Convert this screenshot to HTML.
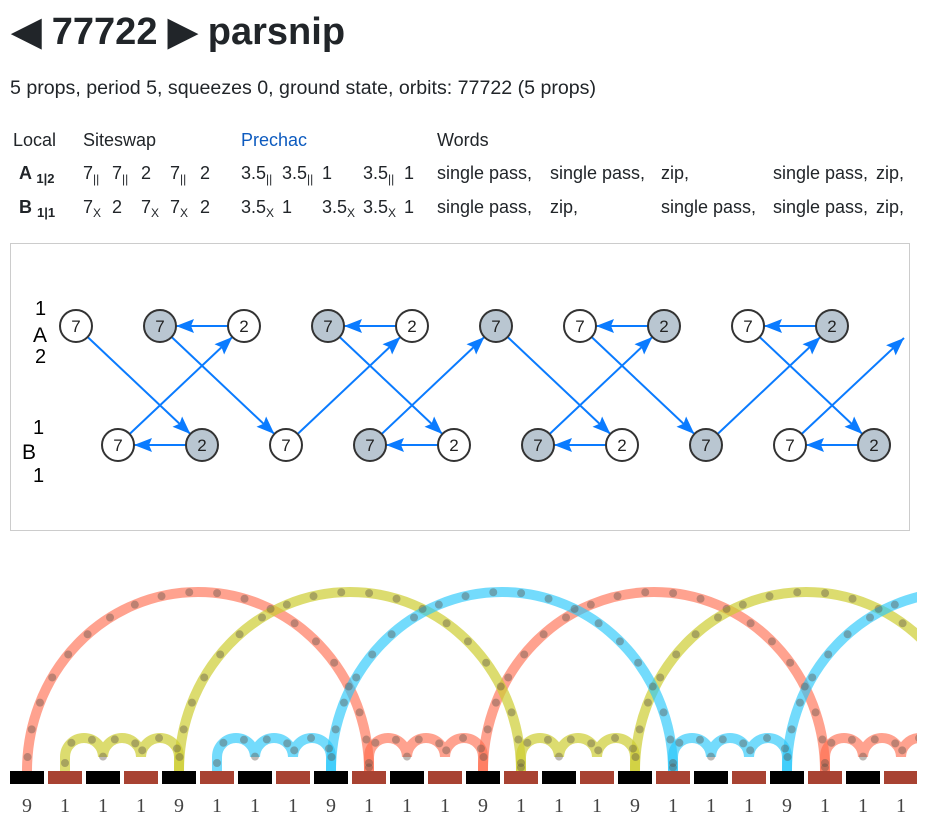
<!DOCTYPE html>
<html><head><meta charset="utf-8"><style>
body{margin:0;width:927px;height:836px;background:#fff;font-family:"Liberation Sans",sans-serif;color:#212529;position:relative;overflow:hidden}
.t{position:absolute;white-space:nowrap;font-size:18px;line-height:22px}
sub{font-size:12px;vertical-align:-4px}
b sub{font-size:13px}
</style></head><body>
<div class="t" style="left:12px;top:11px;font-size:38px;line-height:42px;font-weight:bold">◀ 77722 ▶ parsnip</div>
<div class="t" style="left:10px;top:77px;font-size:19.6px">5 props, period 5, squeezes 0, ground state, orbits: 77722 (5 props)</div>
<div class="t" style="left:13px;top:129px">Local</div>
<div class="t" style="left:83px;top:129px">Siteswap</div>
<div class="t" style="left:241px;top:129px;color:#0d5bbf">Prechac</div>
<div class="t" style="left:437px;top:129px">Words</div>

<div class="t" style="left:19px;top:162px"><b>A <sub>1|2</sub></b></div>
<div class="t" style="left:83px;top:162px">7<sub>||</sub></div>
<div class="t" style="left:112px;top:162px">7<sub>||</sub></div>
<div class="t" style="left:141px;top:162px">2</div>
<div class="t" style="left:170px;top:162px">7<sub>||</sub></div>
<div class="t" style="left:200px;top:162px">2</div>
<div class="t" style="left:241px;top:162px">3.5<sub>||</sub></div>
<div class="t" style="left:282px;top:162px">3.5<sub>||</sub></div>
<div class="t" style="left:322px;top:162px">1</div>
<div class="t" style="left:363px;top:162px">3.5<sub>||</sub></div>
<div class="t" style="left:404px;top:162px">1</div>
<div class="t" style="left:437px;top:162px">single pass,</div>
<div class="t" style="left:550px;top:162px">single pass,</div>
<div class="t" style="left:661px;top:162px">zip,</div>
<div class="t" style="left:773px;top:162px">single pass,</div>
<div class="t" style="left:876px;top:162px">zip,</div>

<div class="t" style="left:19px;top:196px"><b>B <sub>1|1</sub></b></div>
<div class="t" style="left:83px;top:196px">7<sub>X</sub></div>
<div class="t" style="left:112px;top:196px">2</div>
<div class="t" style="left:141px;top:196px">7<sub>X</sub></div>
<div class="t" style="left:170px;top:196px">7<sub>X</sub></div>
<div class="t" style="left:200px;top:196px">2</div>
<div class="t" style="left:241px;top:196px">3.5<sub>X</sub></div>
<div class="t" style="left:282px;top:196px">1</div>
<div class="t" style="left:322px;top:196px">3.5<sub>X</sub></div>
<div class="t" style="left:363px;top:196px">3.5<sub>X</sub></div>
<div class="t" style="left:404px;top:196px">1</div>
<div class="t" style="left:437px;top:196px">single pass,</div>
<div class="t" style="left:550px;top:196px">zip,</div>
<div class="t" style="left:661px;top:196px">single pass,</div>
<div class="t" style="left:773px;top:196px">single pass,</div>
<div class="t" style="left:876px;top:196px">zip,</div>

<svg width="927" height="836" style="position:absolute;left:0;top:0" font-family="Liberation Sans, sans-serif">
<defs>
<marker id="a2" viewBox="0 0 18 14" markerWidth="18" markerHeight="14" refX="18" refY="7" orient="auto" markerUnits="userSpaceOnUse"><path d="M0,0 L18,7 L0,14 L3,7 Z" fill="#0a7bff"/></marker>
<clipPath id="cp"><rect x="0" y="540" width="917" height="260"/></clipPath>
</defs>
<rect x="10.5" y="243.5" width="899" height="287" fill="none" stroke="#ccc"/>
<g font-size="21" fill="#000">
<text x="33" y="342">A</text><text x="35" y="315" font-size="20">1</text><text x="35" y="363" font-size="20">2</text>
<text x="22" y="459">B</text><text x="33" y="434" font-size="20">1</text><text x="33" y="482" font-size="20">1</text>
</g>
<g stroke="#0a7bff" stroke-width="2" marker-end="url(#a2)" fill="none">
<path d="M87.6,337 L190.4,434"/><path d="M171.6,337 L274.4,434"/><path d="M339.6,337 L442.4,434"/><path d="M507.6,337 L610.4,434"/><path d="M591.6,337 L694.4,434"/><path d="M759.6,337 L862.4,434"/>
<path d="M129.6,434 L232.4,337"/><path d="M297.6,434 L400.4,337"/><path d="M381.6,434 L484.4,337"/><path d="M549.6,434 L652.4,337"/><path d="M717.6,434 L820.4,337"/><path d="M801.6,434 L904,338"/>
<path d="M228,326 L176,326"/><path d="M396,326 L344,326"/><path d="M648,326 L596,326"/><path d="M816,326 L764,326"/>
<path d="M186,445 L134,445"/><path d="M438,445 L386,445"/><path d="M606,445 L554,445"/><path d="M858,445 L806,445"/>
</g>
<g stroke="#333" stroke-width="2" font-size="17" text-anchor="middle">
<circle cx="76" cy="326" r="16" fill="#fff"/><circle cx="160" cy="326" r="16" fill="#b9c6d1"/><circle cx="244" cy="326" r="16" fill="#fff"/><circle cx="328" cy="326" r="16" fill="#b9c6d1"/><circle cx="412" cy="326" r="16" fill="#fff"/><circle cx="496" cy="326" r="16" fill="#b9c6d1"/><circle cx="580" cy="326" r="16" fill="#fff"/><circle cx="664" cy="326" r="16" fill="#b9c6d1"/><circle cx="748" cy="326" r="16" fill="#fff"/><circle cx="832" cy="326" r="16" fill="#b9c6d1"/>
<circle cx="118" cy="445" r="16" fill="#fff"/><circle cx="202" cy="445" r="16" fill="#b9c6d1"/><circle cx="286" cy="445" r="16" fill="#fff"/><circle cx="370" cy="445" r="16" fill="#b9c6d1"/><circle cx="454" cy="445" r="16" fill="#fff"/><circle cx="538" cy="445" r="16" fill="#b9c6d1"/><circle cx="622" cy="445" r="16" fill="#fff"/><circle cx="706" cy="445" r="16" fill="#b9c6d1"/><circle cx="790" cy="445" r="16" fill="#fff"/><circle cx="874" cy="445" r="16" fill="#b9c6d1"/>
<g stroke="none" fill="#222">
<text x="76" y="332">7</text><text x="160" y="332">7</text><text x="244" y="332">2</text><text x="328" y="332">7</text><text x="412" y="332">2</text><text x="496" y="332">7</text><text x="580" y="332">7</text><text x="664" y="332">2</text><text x="748" y="332">7</text><text x="832" y="332">2</text>
<text x="118" y="451">7</text><text x="202" y="451">2</text><text x="286" y="451">7</text><text x="370" y="451">7</text><text x="454" y="451">2</text><text x="538" y="451">7</text><text x="622" y="451">2</text><text x="706" y="451">7</text><text x="790" y="451">7</text><text x="874" y="451">2</text>
</g></g>

<g clip-path="url(#cp)" fill="none" stroke-width="10">
<g stroke="rgba(255,105,75,0.62)">
<path d="M27,771 A171,179 0 0 1 369,771"/><path d="M483,771 A171,179 0 0 1 825,771"/>
<path d="M369,771 L369,757 A19,19 0 0 1 407,757 A19,19 0 0 1 445,757 A19,19 0 0 1 483,757 L483,771"/>
<path d="M825,771 L825,757 A19,19 0 0 1 863,757 A19,19 0 0 1 901,757 A19,19 0 0 1 939,757 L939,771"/>
</g>
<g stroke="rgba(205,205,50,0.7)">
<path d="M179,771 A171,179 0 0 1 521,771"/><path d="M635,771 A171,179 0 0 1 977,771"/>
<path d="M65,771 L65,757 A19,19 0 0 1 103,757 A19,19 0 0 1 141,757 A19,19 0 0 1 179,757 L179,771"/>
<path d="M521,771 L521,757 A19,19 0 0 1 559,757 A19,19 0 0 1 597,757 A19,19 0 0 1 635,757 L635,771"/>
</g>
<g stroke="rgba(40,200,250,0.65)">
<path d="M331,771 A171,179 0 0 1 673,771"/><path d="M787,771 A171,179 0 0 1 1129,771"/>
<path d="M217,771 L217,757 A19,19 0 0 1 255,757 A19,19 0 0 1 293,757 A19,19 0 0 1 331,757 L331,771"/>
<path d="M673,771 L673,757 A19,19 0 0 1 711,757 A19,19 0 0 1 749,757 A19,19 0 0 1 787,757 L787,771"/>
</g>
<g stroke="rgba(90,80,70,0.4)" stroke-width="8" stroke-linecap="round" stroke-dasharray="0 28" stroke-dashoffset="-14">
<path d="M27,771 A171,179 0 0 1 369,771"/><path d="M483,771 A171,179 0 0 1 825,771"/><path d="M179,771 A171,179 0 0 1 521,771"/><path d="M635,771 A171,179 0 0 1 977,771"/><path d="M331,771 A171,179 0 0 1 673,771"/><path d="M787,771 A171,179 0 0 1 1129,771"/>
</g>
<g stroke="rgba(90,80,70,0.4)" stroke-width="8" stroke-linecap="round" stroke-dasharray="0 22" stroke-dashoffset="-8">
<path d="M65,771 L65,757 A19,19 0 0 1 103,757 A19,19 0 0 1 141,757 A19,19 0 0 1 179,757 M217,771 L217,757 A19,19 0 0 1 255,757 A19,19 0 0 1 293,757 A19,19 0 0 1 331,757 M369,771 L369,757 A19,19 0 0 1 407,757 A19,19 0 0 1 445,757 A19,19 0 0 1 483,757 M521,771 L521,757 A19,19 0 0 1 559,757 A19,19 0 0 1 597,757 A19,19 0 0 1 635,757 M673,771 L673,757 A19,19 0 0 1 711,757 A19,19 0 0 1 749,757 A19,19 0 0 1 787,757 M825,771 L825,757 A19,19 0 0 1 863,757 A19,19 0 0 1 901,757 A19,19 0 0 1 939,757"/>
</g>
</g>
<g>
<rect x="10" y="771" width="34" height="13" fill="#000"/><rect x="48" y="771" width="34" height="13" fill="#a84232"/><rect x="86" y="771" width="34" height="13" fill="#000"/><rect x="124" y="771" width="34" height="13" fill="#a84232"/><rect x="162" y="771" width="34" height="13" fill="#000"/><rect x="200" y="771" width="34" height="13" fill="#a84232"/><rect x="238" y="771" width="34" height="13" fill="#000"/><rect x="276" y="771" width="34" height="13" fill="#a84232"/><rect x="314" y="771" width="34" height="13" fill="#000"/><rect x="352" y="771" width="34" height="13" fill="#a84232"/><rect x="390" y="771" width="34" height="13" fill="#000"/><rect x="428" y="771" width="34" height="13" fill="#a84232"/><rect x="466" y="771" width="34" height="13" fill="#000"/><rect x="504" y="771" width="34" height="13" fill="#a84232"/><rect x="542" y="771" width="34" height="13" fill="#000"/><rect x="580" y="771" width="34" height="13" fill="#a84232"/><rect x="618" y="771" width="34" height="13" fill="#000"/><rect x="656" y="771" width="34" height="13" fill="#a84232"/><rect x="694" y="771" width="34" height="13" fill="#000"/><rect x="732" y="771" width="34" height="13" fill="#a84232"/><rect x="770" y="771" width="34" height="13" fill="#000"/><rect x="808" y="771" width="34" height="13" fill="#a84232"/><rect x="846" y="771" width="34" height="13" fill="#000"/><rect x="884" y="771" width="33" height="13" fill="#a84232"/>
</g>
<g font-family="Liberation Serif, serif" font-size="20" fill="#444" text-anchor="middle">
<text x="27" y="812">9</text><text x="65" y="812">1</text><text x="103" y="812">1</text><text x="141" y="812">1</text><text x="179" y="812">9</text><text x="217" y="812">1</text><text x="255" y="812">1</text><text x="293" y="812">1</text><text x="331" y="812">9</text><text x="369" y="812">1</text><text x="407" y="812">1</text><text x="445" y="812">1</text><text x="483" y="812">9</text><text x="521" y="812">1</text><text x="559" y="812">1</text><text x="597" y="812">1</text><text x="635" y="812">9</text><text x="673" y="812">1</text><text x="711" y="812">1</text><text x="749" y="812">1</text><text x="787" y="812">9</text><text x="825" y="812">1</text><text x="863" y="812">1</text><text x="901" y="812">1</text>
</g>
</svg>
</body></html>
